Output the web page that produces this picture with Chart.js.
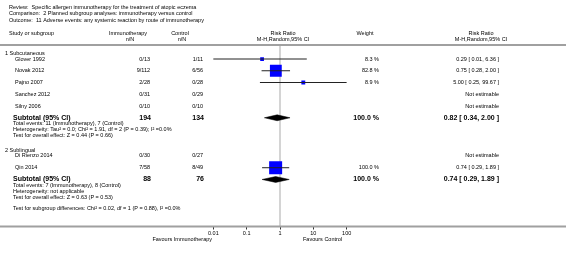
<!DOCTYPE html>
<html><head><meta charset="utf-8">
<script src="https://cdn.jsdelivr.net/npm/chart.js@4"></script>
<style>html,body{margin:0;padding:0;background:#fff}#c{display:block}</style>
</head><body>
<canvas id="c" width="566" height="257"></canvas>
<script>
// ---- data ----
const titleLines = [
  'Review:  Specific allergen immunotherapy for the treatment of atopic eczema',
  'Comparison:  2 Planned subgroup analyses: immunotherapy versus control',
  'Outcome:  11 Adverse events: any systemic reaction by route of immunotherapy'
];
const subgroups = ['1 Subcutaneous', '2 Sublingual'];
const studies = ['Glover 1992', 'Novak 2012', 'Pajno 2007', 'Sanchez 2012', 'Silny 2006', 'Di Rienzo 2014', 'Qin 2014'];
const studyGroup = [0, 0, 0, 0, 0, 1, 1];
const immunoNN = ['0/13', '9/112', '2/28', '0/31', '0/10', '0/30', '7/58'];
const controlNN = ['1/11', '6/56', '0/28', '0/29', '0/10', '0/27', '8/49'];
const weights = [8.3, 82.8, 8.9, null, null, null, 100.0];
const rr = [0.29, 0.75, 5.00, null, null, null, 0.74];
const rrLow = [0.01, 0.28, 0.25, null, null, null, 0.29];
const rrHigh = [6.36, 2.00, 99.67, null, null, null, 1.89];
const subtotalImmunoN = [194, 88];
const subtotalControlN = [134, 76];
const subtotalWeight = [100.0, 100.0];
const subtotalRR = [0.82, 0.74];
const subtotalLow = [0.34, 0.29];
const subtotalHigh = [2.00, 1.89];
const subtotalNotes = [
  ['Total events: 11 (Immunotherapy), 7 (Control)',
   'Heterogeneity: Tau\u00B2 = 0.0; Chi\u00B2 = 1.91, df = 2 (P = 0.39); I\u00B2 =0.0%',
   'Test for overall effect: Z = 0.44 (P = 0.66)'],
  ['Total events: 7 (Immunotherapy), 8 (Control)',
   'Heterogeneity: not applicable',
   'Test for overall effect: Z = 0.63 (P = 0.53)']
];
const overallNote = 'Test for subgroup differences: Chi\u00B2 = 0.02, df = 1 (P = 0.88), I\u00B2 =0.0%';
const tickValues = [0.01, 0.1, 1, 10, 100];
const tickLabels = ['0.01', '0.1', '1', '10', '100'];
const favourLeft = 'Favours Immunotherapy';
const favourRight = 'Favours Control';

// ---- layout (row positions in text-line units) ----
const groupLine = [9, 25.5];
const studyLine = [10, 12, 14, 16, 18, 26.5, 28.5];
const subtotalLine = [20, 30.5];
const overallLine = 35.5;
const Y_MIN = 7.617, Y_MAX = 38.5;

const FONT = '"Liberation Sans", Arial, sans-serif';
const fs = 5.5, fsB = 7;
const fmt = v => v.toFixed(2);
const rrText = (a, l, h) => fmt(a) + ' [ ' + fmt(l) + ', ' + fmt(h) + ' ]';

// ---- datasets ----
const datasets = [];
datasets.push({type: 'line', data: [{x: 1, y: Y_MIN}, {x: 1, y: Y_MAX}], borderColor: '#d4d4d4', borderWidth: 2, pointRadius: 0, order: 10});
studies.forEach((s, i) => {
  if (rr[i] == null) return;
  datasets.push({type: 'line', data: [{x: rrLow[i], y: studyLine[i]}, {x: rrHigh[i], y: studyLine[i]}],
    borderColor: '#222', borderWidth: 1, pointRadius: 0, order: 1});
});
const sqData = [], sqRad = [];
studies.forEach((s, i) => {
  if (rr[i] == null) return;
  sqData.push({x: rr[i], y: studyLine[i]});
  const side = 13 * Math.sqrt(weights[i] / 100);
  sqRad.push(side / Math.SQRT2);
});
datasets.push({type: 'scatter', data: sqData, pointStyle: 'rect', pointRadius: sqRad, pointHoverRadius: sqRad,
  backgroundColor: '#0000ff', borderColor: '#0000ff', borderWidth: 0, order: 2});
subgroups.forEach((g, k) => {
  const y = subtotalLine[k];
  datasets.push({type: 'line', data: [
    {x: subtotalLow[k], y: y}, {x: subtotalRR[k], y: y - 0.5}, {x: subtotalHigh[k], y: y},
    {x: subtotalRR[k], y: y + 0.5}, {x: subtotalLow[k], y: y}],
    borderColor: '#000', borderWidth: 0.5, backgroundColor: '#000', fill: 'shape', pointRadius: 0, tension: 0, order: 1});
});

// ---- text plugin ----
const tablePlugin = {
  id: 'table',
  afterDraw(chart) {
    const ctx = chart.ctx, ys = chart.scales.y, xs = chart.scales.x, ca = chart.chartArea;
    const W = chart.width;
    const Y = v => ys.getPixelForValue(v);
    ctx.save();
    ctx.fillStyle = '#000';
    ctx.textBaseline = 'middle';
    const txt = (t, x, y, align, bold, size) => {
      ctx.font = (bold ? 'bold ' : '') + (size || fs) + 'px ' + FONT;
      ctx.textAlign = align || 'left';
      ctx.fillText(t, x, y);
    };
    titleLines.forEach((t, i) => txt(t, 9, 7 + i * 6.5));
    txt('Study or subgroup', 9, 33);
    txt('Immunotherapy', 128, 33, 'center'); txt('n/N', 130, 39, 'center');
    txt('Control', 180, 33, 'center'); txt('n/N', 182, 39, 'center');
    txt('Risk Ratio', 283, 33, 'center'); txt('M-H,Random,95% CI', 283, 39, 'center');
    txt('Weight', 365, 33, 'center');
    txt('Risk Ratio', 481, 33, 'center'); txt('M-H,Random,95% CI', 481, 39, 'center');
    ctx.strokeStyle = '#a0a0a0'; ctx.lineWidth = 2;
    ctx.beginPath(); ctx.moveTo(0, ca.top); ctx.lineTo(W, ca.top); ctx.stroke();
    ctx.beginPath(); ctx.moveTo(0, ca.bottom); ctx.lineTo(W, ca.bottom); ctx.stroke();
    subgroups.forEach((g, k) => {
      txt(g, 5, Y(groupLine[k]));
      txt('Subtotal (95% CI)', 13, Y(subtotalLine[k]), 'left', true, fsB);
      txt(String(subtotalImmunoN[k]), 151, Y(subtotalLine[k]), 'right', true, fsB);
      txt(String(subtotalControlN[k]), 204, Y(subtotalLine[k]), 'right', true, fsB);
      txt(subtotalWeight[k].toFixed(1) + ' %', 379, Y(subtotalLine[k]), 'right', true, fsB);
      txt(rrText(subtotalRR[k], subtotalLow[k], subtotalHigh[k]), 499, Y(subtotalLine[k]), 'right', true, fsB);
      subtotalNotes[k].forEach((n, j) => txt(n, 13, Y(subtotalLine[k] + 1 + j)));
    });
    studies.forEach((s, i) => {
      const y = Y(studyLine[i]);
      txt(s, 15, y);
      txt(immunoNN[i], 150, y, 'right');
      txt(controlNN[i], 203, y, 'right');
      if (rr[i] != null) {
        txt(weights[i].toFixed(1) + ' %', 379, y, 'right');
        txt(rrText(rr[i], rrLow[i], rrHigh[i]), 499, y, 'right');
      } else {
        txt('Not estimable', 499, y, 'right');
      }
    });
    txt(overallNote, 13, Y(overallLine));
    const fy = ca.bottom + 13;
    txt(favourLeft, 212, fy, 'right');
    txt(favourRight, 303, fy, 'left');
    ctx.restore();
  }
};

new Chart(document.getElementById('c'), {
  data: {datasets},
  options: {
    responsive: false, animation: false, devicePixelRatio: 1,
    layout: {padding: {left: 180, right: 186, top: 45, bottom: 20.5}},
    plugins: {legend: {display: false}, tooltip: {enabled: false}},
    scales: {
      x: {type: 'logarithmic', min: 0.001, max: 1000,
        afterBuildTicks(scale) { scale.ticks = tickValues.map(v => ({value: v})); },
        afterFit(scale) { scale.height = 10; },
        ticks: {autoSkip: false, maxRotation: 0, padding: 1, color: '#000',
          font: {size: fs, family: FONT},
          callback: (v) => { const i = tickValues.indexOf(v); return i >= 0 ? tickLabels[i] : ''; }},
        grid: {drawOnChartArea: false, drawTicks: true, tickLength: 3, color: '#333', lineWidth: 1},
        border: {display: false}
      },
      y: {type: 'linear', display: false, reverse: true, min: Y_MIN, max: Y_MAX}
    }
  },
  plugins: [tablePlugin]
});
</script>
</body></html>
